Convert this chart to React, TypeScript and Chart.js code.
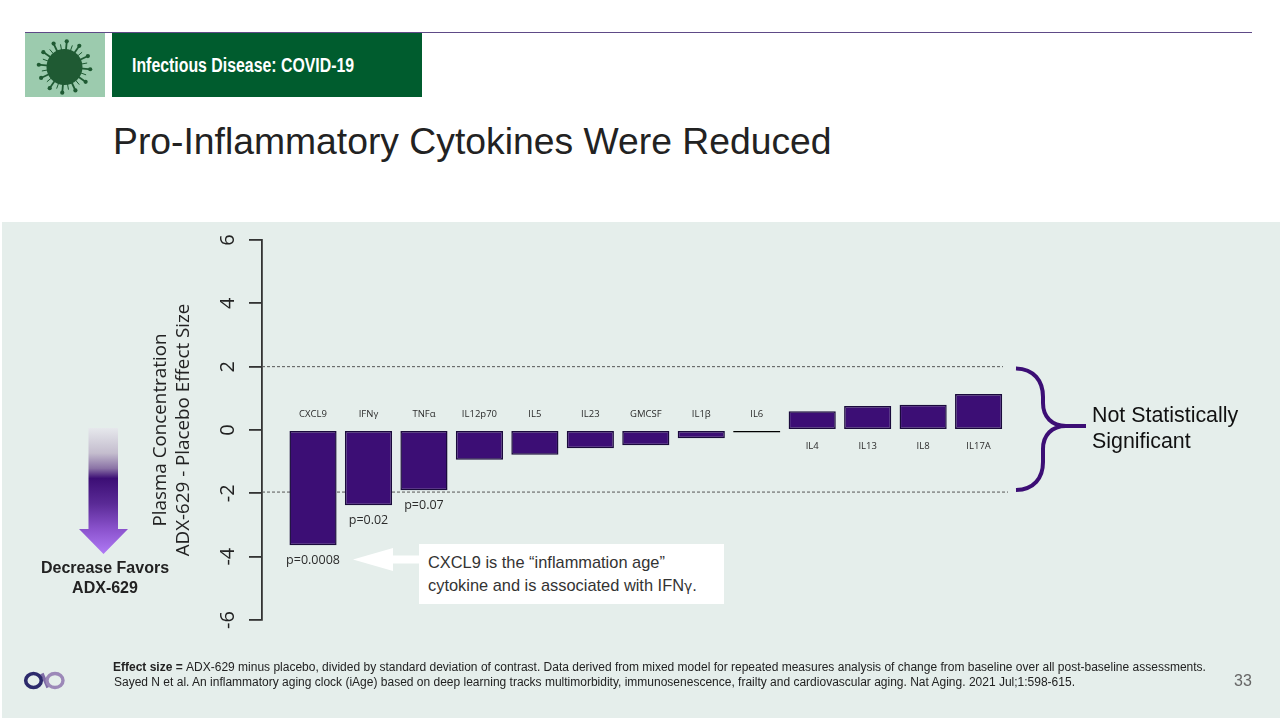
import React, { useEffect, useRef } from "react";
import { Chart, registerables } from "chart.js";

Chart.register(...registerables);

const categories = ["CXCL9", "IFNγ", "TNFα", "IL12p70", "IL5", "IL23", "GMCSF", "IL1β", "IL6", "IL4", "IL13", "IL8", "IL17A"];
const effectSizes = [-3.64, -2.38, -1.9, -0.94, -0.78, -0.58, -0.48, -0.26, -0.08, 0.59, 0.76, 0.8, 1.14];
const pValues = ["p=0.0008", "p=0.02", "p=0.07", "", "", "", "", "", "", "", "", "", ""];
const upperThreshold = 2;
const lowerThreshold = -1.96;
const yMin = -6;
const yMax = 6;
const yStep = 2;
const xMin = 0.08;
const xMax = 13.53;
const upperLineEnd = 13.44;
const yTitle = ["Plasma Concentration", "ADX-629 - Placebo Effect Size"];

const PURPLE = "#3C0E75";
const BAR_EDGE = "#1A0A3C";
const SANS = "'Liberation Sans', Arial, sans-serif";

const barLabels = {
  id: "barLabels",
  afterDatasetsDraw(chart: any) {
    const ctx = chart.ctx;
    const meta = chart.getDatasetMeta(0);
    const y = chart.scales.y;
    ctx.save();
    ctx.textAlign = "center";
    ctx.textBaseline = "middle";
    meta.data.forEach((bar: any, i: number) => {
      ctx.font = "9.5px 'Open Sans'";
      ctx.fillStyle = "#2b2b2b";
      const zero = y.getPixelForValue(0);
      ctx.fillText(categories[i], bar.x, effectSizes[i] < 0 ? zero - 16 : zero + 16.5);
      if (pValues[i]) {
        ctx.font = "12.5px 'Open Sans'";
        ctx.fillStyle = "#2b2b2b";
        ctx.fillText(pValues[i], bar.x, bar.y + 15);
      }
    });
    ctx.restore();
  },
};

function VirusIcon() {
  const cx = 64.5;
  const cy = 67;
  const col = "#1F5A33";
  const long = Array.from({ length: 12 }, (_, i) => (i * 360) / 12 + 5);
  const short = long.map((a) => a + 15);
  const pt = (a: number, r: number) => [cx + r * Math.cos((a * Math.PI) / 180), cy + r * Math.sin((a * Math.PI) / 180)];
  return (
    <svg style={{ position: "absolute", left: 25, top: 33 }} width={80} height={64} viewBox="25 33 80 64">
      <rect x={25} y={33} width={80} height={64} fill="#9CCBAE" />
      <circle cx={cx} cy={cy} r={18} fill={col} />
      {long.map((a) => {
        const [x1, y1] = pt(a, 16);
        const [x2, y2] = pt(a, 26.5);
        const [x3, y3] = pt(a, 25.8);
        return (
          <g key={a}>
            <line x1={x1} y1={y1} x2={x2} y2={y2} stroke={col} strokeWidth={1.8} />
            <circle cx={x3} cy={y3} r={2.1} fill={col} />
          </g>
        );
      })}
      {short.map((a) => {
        const [x1, y1] = pt(a, 16);
        const [x2, y2] = pt(a, 23);
        return <line key={a} x1={x1} y1={y1} x2={x2} y2={y2} stroke={col} strokeWidth={1} />;
      })}
    </svg>
  );
}

function Shapes() {
  return (
    <svg style={{ position: "absolute", left: 0, top: 0 }} width={1280} height={720}>
      <defs>
        <linearGradient id="down" gradientUnits="userSpaceOnUse" x1={0} y1={428} x2={0} y2={554}>
          <stop offset="0" stopColor="#E6E8EC" />
          <stop offset="0.2" stopColor="#C4BDCE" />
          <stop offset="0.32" stopColor="#8B73A6" />
          <stop offset="0.4" stopColor="#3C0E75" />
          <stop offset="0.6" stopColor="#5A2A96" />
          <stop offset="0.8" stopColor="#8A52CC" />
          <stop offset="1" stopColor="#B07AF5" />
        </linearGradient>
      </defs>
      <path d="M88.5 428 H118 V529 H128 L103.5 554 L79 529 H88.5 Z" fill="url(#down)" />
      <path d="M353 559.5 L393 548 V555.5 H421 V563.5 H393 V571 Z" fill="#fff" />
      <path
        d="M1016 368.5 C1034 369 1043 381 1043 397 L1043 403 C1043 417 1052 426 1066 426 L1086 426 M1016 490 C1034 489.5 1043 478 1043 462 L1043 449 C1043 435 1052 426 1066 426"
        fill="none"
        stroke={PURPLE}
        strokeWidth={4}
      />
      <path d="M42 673.5 L48 687.5" stroke="#7F6CA6" strokeWidth={3.4} fill="none" />
      <ellipse cx={33.5} cy={680.5} rx={7.8} ry={7} fill="none" stroke="#2C2A6B" strokeWidth={3.6} />
      <ellipse cx={55} cy={680.5} rx={8} ry={7} fill="none" stroke="#9C88B8" strokeWidth={3.4} />
    </svg>
  );
}

const abs = (left: number, top: number, extra: React.CSSProperties = {}): React.CSSProperties => ({
  position: "absolute",
  left,
  top,
  whiteSpace: "nowrap",
  fontFamily: SANS,
  ...extra,
});

export default function App() {
  const ref = useRef<HTMLCanvasElement>(null);

  useEffect(() => {
    const chart = new Chart(ref.current as HTMLCanvasElement, {
      type: "bar",
      data: {
        datasets: [
          {
            type: "bar",
            order: 1,
            data: effectSizes.map((v, i) => ({ x: i + 1, y: v })),
            backgroundColor: effectSizes.map((v) => (Math.abs(v) < 0.1 ? "#000" : PURPLE)),
            borderColor: effectSizes.map((v) => (Math.abs(v) < 0.1 ? "#000" : BAR_EDGE)),
            borderWidth: 1.5,
            borderSkipped: false,
            categoryPercentage: 1,
            barPercentage: 0.85,
          },
          {
            type: "line",
            order: 2,
            data: [
              { x: xMin, y: upperThreshold },
              { x: upperLineEnd, y: upperThreshold },
            ],
            borderColor: "#555",
            borderWidth: 1,
            borderDash: [3, 2],
            pointRadius: 0,
          },
          {
            type: "line",
            order: 3,
            data: [
              { x: xMin, y: lowerThreshold },
              { x: xMax, y: lowerThreshold },
            ],
            borderColor: "#555",
            borderWidth: 1,
            borderDash: [3, 2],
            pointRadius: 0,
          },
        ],
      } as any,
      options: {
        responsive: false,
        animation: false,
        devicePixelRatio: 1,
        layout: { padding: { left: 120, top: 240, right: 272, bottom: 100 } },
        plugins: { legend: { display: false }, tooltip: { enabled: false } },
        scales: {
          x: { type: "linear", display: false, min: xMin, max: xMax, bounds: "data", offset: false, grid: { display: false } },
          y: {
            min: yMin,
            max: yMax,
            position: "left",
            afterFit: (s: any) => {
              s.width = 142;
            },
            border: { color: "#333", width: 1.8 },
            grid: { drawOnChartArea: false, color: "#333", lineWidth: 1.8, tickLength: 13, tickWidth: 1.8 },
            ticks: {
              stepSize: yStep,
              minRotation: 90,
              maxRotation: 90,
              crossAlign: "center",
              padding: 12,
              color: "#222",
              font: { family: "'Open Sans'", size: 20 },
            },
            title: {
              display: true,
              text: yTitle,
              color: "#222",
              padding: { top: 29, bottom: 0 },
              font: { family: "'Open Sans'", size: 18.8, lineHeight: 1.23 },
            },
          },
        },
      } as any,
      plugins: [barLabels],
    });
    return () => chart.destroy();
  }, []);

  return (
    <div style={{ position: "fixed", left: 0, top: 0, width: 1280, height: 720, overflow: "hidden", background: "#fff" }}>
      <div style={{ position: "absolute", left: 25, top: 32, width: 1227, height: 1, background: "#5E4A87" }} />
      <VirusIcon />
      <div style={{ position: "absolute", left: 112, top: 33, width: 310, height: 64, background: "#005C2E" }} />
      <div
        style={abs(132, 53, {
          color: "#fff",
          fontWeight: 700,
          fontSize: 20,
          lineHeight: "24px",
          transform: "scaleX(0.793)",
          transformOrigin: "left center",
        })}
      >
        Infectious Disease: COVID-19
      </div>
      <div style={abs(113, 119, { fontSize: 37.3, color: "#222", lineHeight: "44px" })}>Pro-Inflammatory Cytokines Were Reduced</div>
      <div style={{ position: "absolute", left: 2, top: 222, width: 1278, height: 496, background: "#E5EEEB" }} />
      <Shapes />
      <div style={{ position: "absolute", left: 419, top: 544, width: 305, height: 60, background: "#fff" }} />
      <div style={abs(428, 551, { fontSize: 16.4, lineHeight: "23px", color: "#333" })}>
        CXCL9 is the “inflammation age”
        <br />
        cytokine and is associated with IFN<span style={{ fontFamily: "'DejaVu Sans'", fontSize: 14 }}>γ</span>.
      </div>
      <canvas ref={ref} width={1280} height={720} style={{ position: "absolute", left: 0, top: 0, width: 1280, height: 720 }} />
      <div style={abs(1092, 402, { fontSize: 21.4, lineHeight: "26px", color: "#111" })}>
        Not Statistically
        <br />
        Significant
      </div>
      <div style={abs(25, 558, { width: 160, textAlign: "center", fontSize: 16, fontWeight: 700, lineHeight: "19.5px", color: "#222" })}>
        Decrease Favors
        <br />
        ADX-629
      </div>
      <div style={abs(113, 660, { fontSize: 12, lineHeight: "15px", color: "#222" })}>
        <b>Effect size = </b>ADX-629 minus placebo, divided by standard deviation of contrast. Data derived from mixed model for repeated measures analysis of change from baseline over all post-baseline assessments.
      </div>
      <div style={abs(114, 675, { fontSize: 12, lineHeight: "15px", color: "#222" })}>
        Sayed N et al. An inflammatory aging clock (iAge) based on deep learning tracks multimorbidity, immunosenescence, frailty and cardiovascular aging. Nat Aging. 2021 Jul;1:598-615.
      </div>
      <div style={abs(1234, 672, { fontSize: 16, lineHeight: "18px", color: "#666" })}>33</div>
    </div>
  );
}
